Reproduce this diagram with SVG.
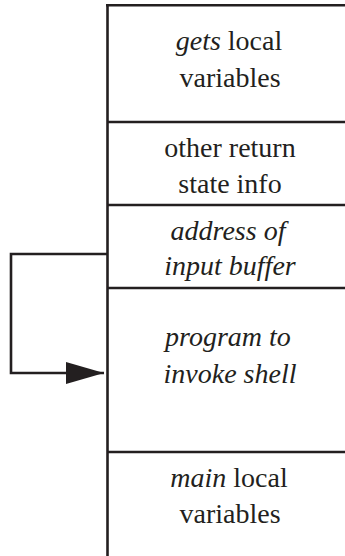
<svg xmlns="http://www.w3.org/2000/svg" width="345" height="556" viewBox="0 0 345 556">
<defs>
<marker id="ah" markerUnits="userSpaceOnUse" markerWidth="40" markerHeight="22" refX="38" refY="11" orient="auto">
<path d="M0,0 L38,11 L0,22 Z" fill="#231f20"/>
</marker>
</defs>
<rect width="345" height="556" fill="#fff"/>
<g id="stack" stroke="#231f20" stroke-width="2.6" fill="none">
<line x1="107.5" y1="4" x2="107.5" y2="556"/>
<line x1="106" y1="5.3" x2="345" y2="5.3"/>
</g>
<g id="gets-local">
<line x1="107" y1="122" x2="345" y2="122" stroke="#231f20" stroke-width="2.6"/>
<text font-family="Liberation Serif" style="font-family:'Liberation Serif',serif !important" font-size="28" fill="#231f20" text-anchor="middle" x="229" y="50"><tspan font-style="italic">gets</tspan> local</text>
<text font-family="Liberation Serif" style="font-family:'Liberation Serif',serif !important" font-size="28" fill="#231f20" text-anchor="middle" x="230" y="87">variables</text>
</g>
<g id="return-state">
<line x1="107" y1="205" x2="345" y2="205" stroke="#231f20" stroke-width="2.6"/>
<text font-family="Liberation Serif" style="font-family:'Liberation Serif',serif !important" font-size="28" fill="#231f20" text-anchor="middle" x="230" y="157">other return</text>
<text font-family="Liberation Serif" style="font-family:'Liberation Serif',serif !important" font-size="28" fill="#231f20" text-anchor="middle" x="230" y="193">state info</text>
</g>
<g id="address">
<line x1="107" y1="288" x2="345" y2="288" stroke="#231f20" stroke-width="2.6"/>
<text font-family="Liberation Serif" style="font-family:'Liberation Serif',serif !important" font-size="28" font-style="italic" fill="#231f20" text-anchor="middle" x="228" y="240">address of</text>
<text font-family="Liberation Serif" style="font-family:'Liberation Serif',serif !important" font-size="28" font-style="italic" fill="#231f20" text-anchor="middle" x="230" y="275">input buffer</text>
</g>
<g id="program">
<line x1="107" y1="452" x2="345" y2="452" stroke="#231f20" stroke-width="2.6"/>
<text font-family="Liberation Serif" style="font-family:'Liberation Serif',serif !important" font-size="28" font-style="italic" fill="#231f20" text-anchor="middle" x="228" y="346">program to</text>
<text font-family="Liberation Serif" style="font-family:'Liberation Serif',serif !important" font-size="28" font-style="italic" fill="#231f20" text-anchor="middle" x="230" y="383">invoke shell</text>
</g>
<g id="main-local">
<text font-family="Liberation Serif" style="font-family:'Liberation Serif',serif !important" font-size="28" fill="#231f20" text-anchor="middle" x="229" y="487"><tspan font-style="italic">main</tspan> local</text>
<text font-family="Liberation Serif" style="font-family:'Liberation Serif',serif !important" font-size="28" fill="#231f20" text-anchor="middle" x="230" y="523">variables</text>
</g>
<g id="connectors">
<path d="M107,254 H11 V373 H104" stroke="#231f20" stroke-width="2.6" fill="none" marker-end="url(#ah)"/>
</g>
</svg>
